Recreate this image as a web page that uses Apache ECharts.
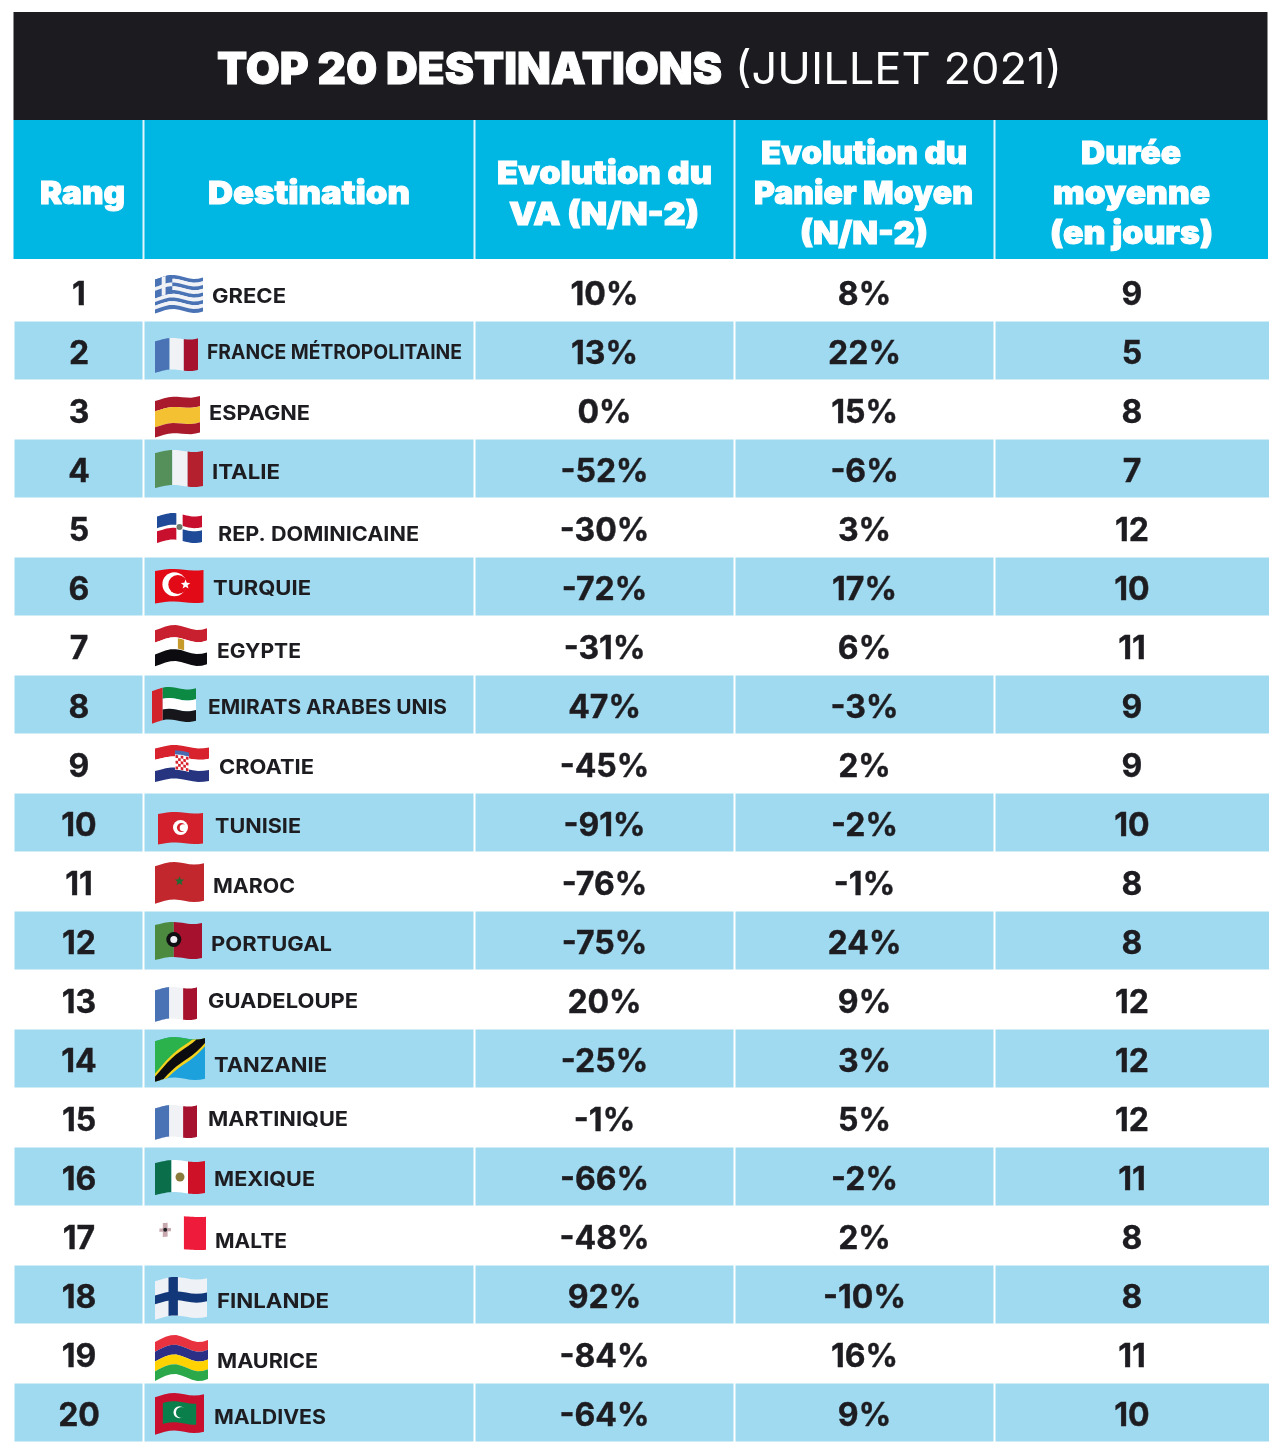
<!DOCTYPE html>
<html>
<head>
<meta charset="UTF-8">
<title>Top 20 destinations</title>
<script src="https://cdn.jsdelivr.net/npm/echarts@6/dist/echarts.min.js"></script>
<style>html,body{margin:0;background:#fff}</style>
</head>
<body>
    <div id="main" style="width:1281px;height:1454px;"></div>
    <script type="text/javascript">
    var FONT = 'Inter';
    var INK = '#1d1d21', CYAN = '#00b6e3', PALE = '#a0daf0', BLACK = '#1c1b1f';
    var edges = [13.5, 143.5, 474.5, 734.5, 994.5, 1269];

    // rank, name, VA evolution, basket evolution, duration, label x0, x1, label dy
    var rows = [
        [1,'GRECE',10,8,9,212,286,5.5],
        [2,'FRANCE MÉTROPOLITAINE',13,22,5,207,462,2.5],
        [3,'ESPAGNE',0,15,8,209,310,4.5],
        [4,'ITALIE',-52,-6,7,212,280,4.5],
        [5,'REP. DOMINICAINE',-30,3,12,218,419,7.5],
        [6,'TURQUIE',-72,17,10,213,311,2.5],
        [7,'EGYPTE',-31,6,11,217,301,6.5],
        [8,'EMIRATS ARABES UNIS',47,-3,9,208,447,3.5],
        [9,'CROATIE',-45,2,9,219,314,4.5],
        [10,'TUNISIE',-91,-2,10,215,301,4.5],
        [11,'MAROC',-76,-1,8,213,295,5.5],
        [12,'PORTUGAL',-75,24,8,211,332,4.5],
        [13,'GUADELOUPE',20,9,12,208,358,2.5],
        [14,'TANZANIE',-25,3,12,214,327,7.5],
        [15,'MARTINIQUE',-1,5,12,208,348,2.5],
        [16,'MEXIQUE',-66,-2,11,214,315,3.5],
        [17,'MALTE',-48,2,8,215,287,6.5],
        [18,'FINLANDE',92,-10,8,217,329,7.5],
        [19,'MAURICE',-84,16,11,217,318,8.5],
        [20,'MALDIVES',-64,9,10,214,326,5.5]
    ];

    var header = [
        ['Rang',40,125,194],
        ['Destination',208,410,194],
        ['Evolution du',497,712,174],
        ['VA (N/N-2)',509,699,215],
        ['Evolution du',761,967,154],
        ['Panier Moyen',754,973,194],
        ['(N/N-2)',800,928,234],
        ['Durée',1081,1181,154],
        ['moyenne',1053,1210,194],
        ['(en jours)',1050,1213,234]
    ];

    var measure = document.createElement('canvas').getContext('2d');
    function fitted(text, weight, size, x0, x1, y, fill, stroke) {
        measure.font = weight + ' ' + size + 'px ' + FONT;
        var style = { text: text, x: 0, y: 0, fill: fill, align: 'left', verticalAlign: 'middle',
                      fontFamily: FONT, fontWeight: weight, fontSize: size };
        if (stroke) {
            style.stroke = fill;
            style.lineWidth = stroke;
        }
        return { type: 'text', x: x0, y: y, scaleX: (x1 - x0) / measure.measureText(text).width, style: style };
    }

    // Croatian shield checks
    function checks() {
        var out = [[.37,.2,.63,.74,'#ffffff']];
        for (var i = 0; i < 5; i++) {
            for (var j = 0; j < 5; j++) {
                if ((i + j) % 2 === 0) {
                    out.push([.38 + i * .048, .3 + j * .085, .38 + (i + 1) * .048, .3 + (j + 1) * .085, '#d8232f']);
                }
            }
        }
        out.push([.37,.16,.63,.28,'#4a6bb0']);
        return out;
    }

    // flags: x, width, top offset from row centre, height, wave amplitude, tilt
    var BL = '#4a73b5', WH = '#f0f2f6', RD = '#a6112d';
    var FR = [[0,0,.34,1,BL],[.34,0,.67,1,WH],[.67,0,1,1,RD]];
    var flags = [
        {x:155,w:48,dy:-16.5,h:38,a:2.5,t:2,parts:[[0,0,1,.11,BL],[0,.11,1,.22,WH],[0,.22,1,.33,BL],[0,.33,1,.44,WH],[0,.44,1,.55,BL],[0,.55,1,.66,WH],[0,.66,1,.77,BL],[0,.77,1,.88,WH],[0,.88,1,1,BL],[0,0,.36,.55,BL],[.14,0,.22,.55,WH],[0,.22,.36,.33,WH]]},
        {x:155,w:43,dy:-12.5,h:33,a:1.5,t:3,parts:FR},
        {x:155,w:45,dy:-12.5,h:37,a:1.5,t:5,parts:[[0,0,1,.28,'#a81a2c'],[0,.28,1,.72,'#f4c132'],[0,.72,1,1,'#a81a2c']]},
        {x:155,w:48,dy:-18.5,h:37,a:1.5,t:2,parts:[[0,0,.36,1,'#55905a'],[.36,0,.68,1,WH],[.68,0,1,1,'#b5202e']]},
        {x:157,w:45,dy:-14.5,h:30,a:2,t:1,parts:[[0,0,.43,.44,'#1f4a97'],[.57,0,1,.44,'#c8102e'],[0,.56,.43,1,'#c8102e'],[.57,.56,1,1,'#1f4a97']],dots:[[.5,.5,3,'#6b7a6a']]},
        {x:155,w:48.5,dy:-17.5,h:34,a:1,t:1,parts:[[0,0,1,1,'#e30a17']],dots:[[.4,.47,12,'#ffffff'],[.47,.47,9.5,'#e30a17']],stars:[[.63,.45,5,'#ffffff']]},
        {x:155,w:52,dy:-20.5,h:41,a:3,t:2,parts:[[0,0,1,.34,'#c8202f'],[0,.34,1,.67,'#ffffff'],[0,.67,1,1,'#0c0c10'],[.44,.36,.56,.65,'#c79a2c']]},
        {x:152,w:44,dy:-17.5,h:35,a:2,t:3,parts:[[.24,0,1,.34,'#0c8a44'],[.24,.34,1,.67,'#ffffff'],[.24,.67,1,1,'#17171b'],[0,0,.24,1,'#d2232a']]},
        {x:155,w:54,dy:-18.5,h:37,a:2,t:1,parts:[[0,0,1,.34,'#d8232f'],[0,.34,1,.67,'#ffffff'],[0,.67,1,1,'#27347f']].concat(checks())},
        {x:158,w:45,dy:-10.5,h:32,a:1,t:1,parts:[[0,0,1,1,'#d4202c']],dots:[[.5,.5,7.5,'#ffffff'],[.52,.5,4.5,'#d4202c'],[.56,.5,3.5,'#ffffff']]},
        {x:155,w:49,dy:-19.5,h:40,a:2,t:3,parts:[[0,0,1,1,'#c1272d']],stars:[[.5,.5,5,'#1e6b34']]},
        {x:155,w:47,dy:-18.5,h:37,a:1.5,t:2,parts:[[0,0,.4,1,'#4c8b3f'],[.4,0,1,1,RD]],dots:[[.4,.5,7.5,'#111114'],[.4,.5,3.5,'#f0f2f6']]},
        {x:155,w:42,dy:-12.5,h:33,a:1.5,t:3,parts:FR},
        {x:155,w:50,dy:-21.5,h:43,a:2,t:3,parts:[[0,0,1,1,'#1da1dc'],{p:[[0,0],[1,0],[0,1]],c:'#2bb24c'},{p:[[0,.8],[.75,0],[1,0],[1,.2],[.25,1],[0,1]],c:'#f2d21f'},{p:[[0,.88],[.83,0],[1,0],[1,.12],[.17,1],[0,1]],c:'#0c0c10'}]},
        {x:155,w:42,dy:-12.5,h:33,a:1.5,t:3,parts:FR},
        {x:155,w:50,dy:-16.5,h:34,a:1.5,t:2,parts:[[0,0,.33,1,'#0a6e4b'],[.33,0,.66,1,'#ffffff'],[.66,0,1,1,'#ce1126']],dots:[[.5,.52,4.5,'#8a7a3c']]},
        {x:158,w:48,dy:-19.5,h:34,a:0.5,t:0,parts:[[.54,0,1,1,'#ee1c3a'],[.03,.36,.27,.46,'#c9a9b0'],[.1,.2,.2,.62,'#c9a9b0']],dots:[[.15,.41,2,'#222226']]},
        {x:155,w:52,dy:-17.5,h:41,a:2,t:3,parts:[[0,0,1,1,'#eef1f6'],[.26,0,.44,1,'#13387a'],[0,.37,1,.6,'#13387a']]},
        {x:155,w:53,dy:-18.5,h:46,a:4,t:2,parts:[[0,0,1,.25,'#e8323f'],[0,.25,1,.5,'#2b2f86'],[0,.5,1,.75,'#ffd200'],[0,.75,1,1,'#2aa84a']]},
        {x:155,w:49,dy:-19.5,h:40,a:2,t:3,parts:[[0,0,1,1,'#c8102e'],[.16,.22,.84,.78,'#0b7f4b']],dots:[[.5,.5,6,'#ffffff'],[.54,.5,5.5,'#0b7f4b']]}
    ];

    function wave(f, cy) {
        var usable = f.h - 2 * f.a + 0.5 * f.t, top = cy + f.dy + f.a - 0.66 * f.t;
        return function (u, v) {
            return [f.x + u * f.w,
                    top + f.t * (1 - u) + v * usable - f.a * Math.sin(u * Math.PI * 2 - 0.6)];
        };
    }
    function edgePoints(map, pts) {
        var out = [];
        pts.forEach(function (p, i) {
            var q = pts[(i + 1) % pts.length];
            for (var s = 0; s < 10; s++) {
                out.push(map(p[0] + (q[0] - p[0]) * s / 10, p[1] + (q[1] - p[1]) * s / 10));
            }
        });
        return out;
    }
    function starPoints(cx, cy, r) {
        var out = [];
        for (var k = 0; k < 10; k++) {
            var rad = k % 2 ? r * 0.42 : r, ang = -Math.PI / 2 + k * Math.PI / 5;
            out.push([cx + rad * Math.cos(ang), cy + rad * Math.sin(ang)]);
        }
        return out;
    }

    function renderTitle(params, api) {
        var size = api.size([0, 1]), p = api.coord([edges[0], 0]), q = api.coord([1267.5, 0]);
        return { type: 'group', children: [
            { type: 'rect', shape: { x: p[0], y: p[1] - size[1] / 2, width: q[0] - p[0], height: size[1] }, style: { fill: BLACK } },
            fitted('TOP 20 DESTINATIONS', 900, 44, 217, 722, p[1] + 5, '#ffffff', 1),
            fitted('(JUILLET 2021)', 400, 44, 735, 1062, p[1] + 5, '#ffffff')
        ] };
    }

    function renderHeader(params, api) {
        var size = api.size([0, 1]), p = api.coord([edges[0], 0]), top = p[1] - size[1] / 2;
        var out = [{ type: 'rect', shape: { x: p[0], y: top, width: 1268 - p[0], height: size[1] }, style: { fill: CYAN } }];
        edges.slice(1, 5).forEach(function (e) {
            var c = api.coord([e, 0]);
            out.push({ type: 'rect', shape: { x: c[0] - 1, y: top, width: 2, height: size[1] }, style: { fill: '#e4f6fb' } });
        });
        header.forEach(function (h) {
            out.push(fitted(h[0], 900, 32, h[1], h[2], h[3], '#ffffff', 1));
        });
        return { type: 'group', children: out };
    }

    function renderRow(params, api) {
        var i = params.dataIndex, r = rows[i], f = flags[i];
        var cy = api.coord([0, i])[1];
        var out = [];
        if (i % 2 === 1) {
            for (var c = 0; c < 5; c++) {
                var a = api.coord([edges[c], i])[0], b = api.coord([edges[c + 1], i])[0];
                out.push({ type: 'rect',
                    shape: { x: a + 1, y: cy - 29, width: b - a - (c < 4 ? 2 : 1), height: 58 },
                    style: { fill: PALE } });
            }
        }
        // flag
        var map = wave(f, cy);
        f.parts.forEach(function (part) {
            var pts = part.p || [[part[0], part[1]], [part[2], part[1]], [part[2], part[3]], [part[0], part[3]]];
            out.push({ type: 'polygon', shape: { points: edgePoints(map, pts) }, style: { fill: part.c || part[4] } });
        });
        (f.dots || []).forEach(function (d) {
            var m = map(d[0], d[1]);
            out.push({ type: 'circle', shape: { cx: m[0], cy: m[1], r: d[2] }, style: { fill: d[3] } });
        });
        (f.stars || []).forEach(function (d) {
            var m = map(d[0], d[1]);
            out.push({ type: 'polygon', shape: { points: starPoints(m[0], m[1], d[2]) }, style: { fill: d[3] } });
        });
        // label
        out.push(fitted(r[1], 700, 20, r[5], r[6], cy + r[7], INK));
        // numbers
        var cells = [[r[0] + '', 79], [r[2] + '%', 604.5], [r[3] + '%', 864.5], [r[4] + '', 1132]];
        cells.forEach(function (t) {
            out.push({ type: 'text', x: t[1], y: cy + 3.5,
                style: { text: t[0], fill: INK, stroke: INK, lineWidth: 0.4, align: 'center', verticalAlign: 'middle',
                         fontFamily: FONT, fontWeight: 700, fontSize: 32 } });
        });
        return { type: 'group', children: out };
    }

    function xAxis(g) { return { type: 'value', gridIndex: g, min: 0, max: 1281, show: false }; }
    function yAxis(g, names) { return { type: 'category', gridIndex: g, data: names, inverse: true, show: false }; }

    var myChart = echarts.init(document.getElementById('main'));
    var option = {
        animation: false,
        grid: [
            { left: 0, right: 0, top: 12, height: 108 },
            { left: 0, right: 0, top: 120, height: 139 },
            { left: 0, right: 0, top: 262, height: 1180 }
        ],
        xAxis: [xAxis(0), xAxis(1), xAxis(2)],
        yAxis: [yAxis(0, ['titre']), yAxis(1, ['entete']), yAxis(2, rows.map(function (r) { return r[1]; }))],
        series: [
            { type: 'custom', xAxisIndex: 0, yAxisIndex: 0, renderItem: renderTitle, data: [[0, 0]], silent: true },
            { type: 'custom', xAxisIndex: 1, yAxisIndex: 1, renderItem: renderHeader, data: [[0, 0]], silent: true },
            { type: 'custom', xAxisIndex: 2, yAxisIndex: 2, renderItem: renderRow, silent: true,
              data: rows.map(function (r, i) { return [r[2], i]; }) }
        ]
    };
    myChart.setOption(option);
    </script>
</body>
</html>
